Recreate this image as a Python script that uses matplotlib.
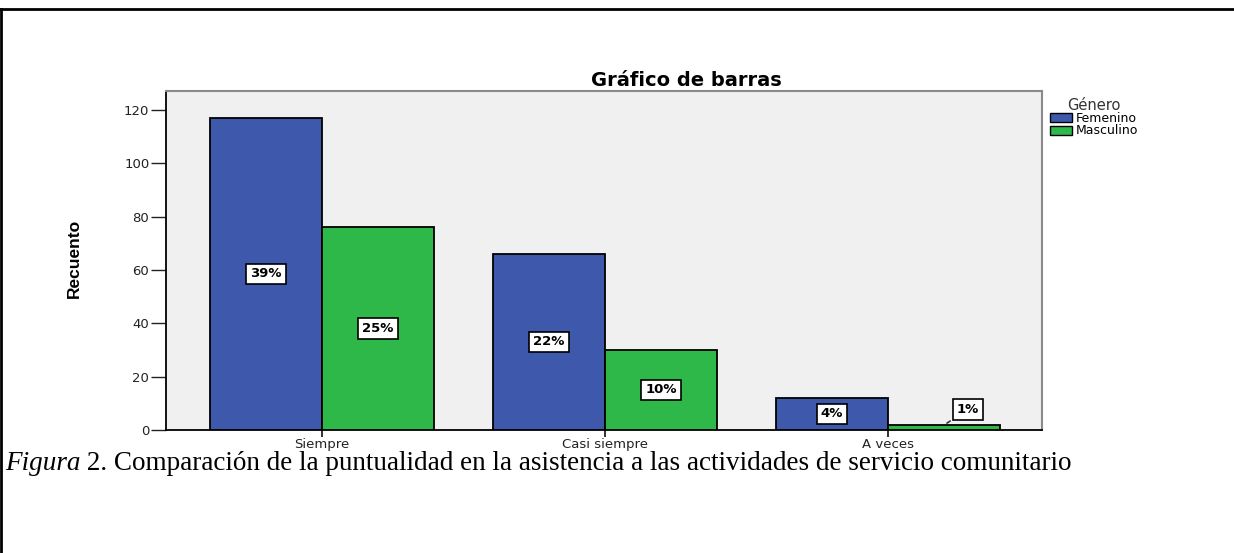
import matplotlib
matplotlib.use("Agg")
import matplotlib.pyplot as plt
from matplotlib.lines import Line2D
from matplotlib.patches import Patch
import numpy as np

# --- Datos ---
categorias = ["Siempre", "Casi siempre", "A veces"]
femenino = [117, 66, 12]
masculino = [76, 30, 2]
pct_femenino = ["39%", "22%", "4%"]
pct_masculino = ["25%", "10%", "1%"]
y_ticks = [0, 20, 40, 60, 80, 100, 120]

azul = "#3E58AC"
verde = "#2EB84A"
sans = ["DejaVu Sans"]
serif = ["Liberation Serif", "DejaVu Serif"]

fig = plt.figure(figsize=(12.34, 5.53), dpi=100)
ax = fig.add_axes([166 / 1234, 1 - 430 / 553, 876 / 1234, 339 / 553])
ax.set_facecolor("#f0f0f0")

x = np.arange(len(categorias))
ancho = 0.396
ax.bar(x - ancho / 2, femenino, ancho, color=azul, edgecolor="black", linewidth=1.3, zorder=3)
ax.bar(x + ancho / 2, masculino, ancho, color=verde, edgecolor="black", linewidth=1.3, zorder=3)

caja = dict(boxstyle="square,pad=0.3", facecolor="white", edgecolor="black", linewidth=1.2)
fuente_pct = dict(family=sans, fontsize=9.5, fontweight="bold")

for xi, v, t in zip(x, femenino, pct_femenino):
    ax.text(xi - ancho / 2, v / 2, t, ha="center", va="center", bbox=caja, zorder=5, **fuente_pct)

for xi, v, t in zip(x, masculino, pct_masculino):
    if v < 5:
        # etiqueta por encima con línea guía
        ax.annotate(t, xy=(xi + 0.2, v), xytext=(xi + 0.283, v + 5.8),
                    ha="center", va="center", bbox=caja, zorder=5,
                    arrowprops=dict(arrowstyle="-", color="#333333", lw=1.2), **fuente_pct)
    else:
        ax.text(xi + ancho / 2, v / 2, t, ha="center", va="center", bbox=caja, zorder=5, **fuente_pct)

ax.set_xlim(-0.551, 2.544)
ax.set_ylim(0, 127.1)
ax.set_yticks(y_ticks)
ax.set_xticks(x)
ax.set_xticklabels(categorias)

for lbl in ax.get_xticklabels() + ax.get_yticklabels():
    lbl.set_family(sans)
    lbl.set_fontsize(9.5)
    lbl.set_color("#222222")
ax.tick_params(axis="y", length=11, width=1, pad=1, colors="#222222")
ax.tick_params(axis="x", length=5, width=1.3, pad=1, colors="#222222")

for s in ["top", "right"]:
    ax.spines[s].set_color("#8a8a8a")
    ax.spines[s].set_linewidth(1.5)
for s in ["left", "bottom"]:
    ax.spines[s].set_color("black")
    ax.spines[s].set_linewidth(1.3)

fig.text(74 / 1234, 1 - 258 / 553, "Recuento", rotation=90, ha="center", va="center",
         family=["Liberation Sans", "DejaVu Sans"], fontsize=12.5, fontweight="bold")

fig.text(686 / 1234, 1 - 80 / 553, "Gráfico de barras", ha="center", va="center",
         family=sans, fontsize=14, fontweight="bold")

# Leyenda
handles = [Patch(facecolor=azul, edgecolor="black"), Patch(facecolor=verde, edgecolor="black")]
leg = fig.legend(handles, ["Femenino", "Masculino"], title="Género",
                 loc="upper left", bbox_to_anchor=(1041 / 1234, 1 - 89 / 553),
                 frameon=False, title_fontsize=10.5,
                 handlelength=1.8, handleheight=0.75, handletextpad=0.25,
                 labelspacing=-0.05, borderpad=0.2, prop={"family": sans, "size": 9})
leg.get_title().set_family(sans)
leg.get_title().set_color("#333333")
leg._legend_box.align = "center"

# Pie de figura
y_pie = 1 - 463 / 553
t1 = fig.text(5 / 1234, y_pie, "Figura", ha="left", va="center",
              family=serif, fontsize=19.5, style="italic")
fig.canvas.draw()
bb = t1.get_window_extent()
fig.text(bb.x1 / 1234, y_pie,
         " 2. Comparación de la puntualidad en la asistencia a las actividades de servicio comunitario",
         ha="left", va="center", family=serif, fontsize=19.5)

# Marco exterior
fig.add_artist(Line2D([0, 1], [1 - 9 / 553, 1 - 9 / 553], transform=fig.transFigure, color="black", lw=2))
fig.add_artist(Line2D([1 / 1234, 1 / 1234], [0, 1 - 9 / 553], transform=fig.transFigure, color="black", lw=2))

fig.savefig("out.png", dpi=100)
